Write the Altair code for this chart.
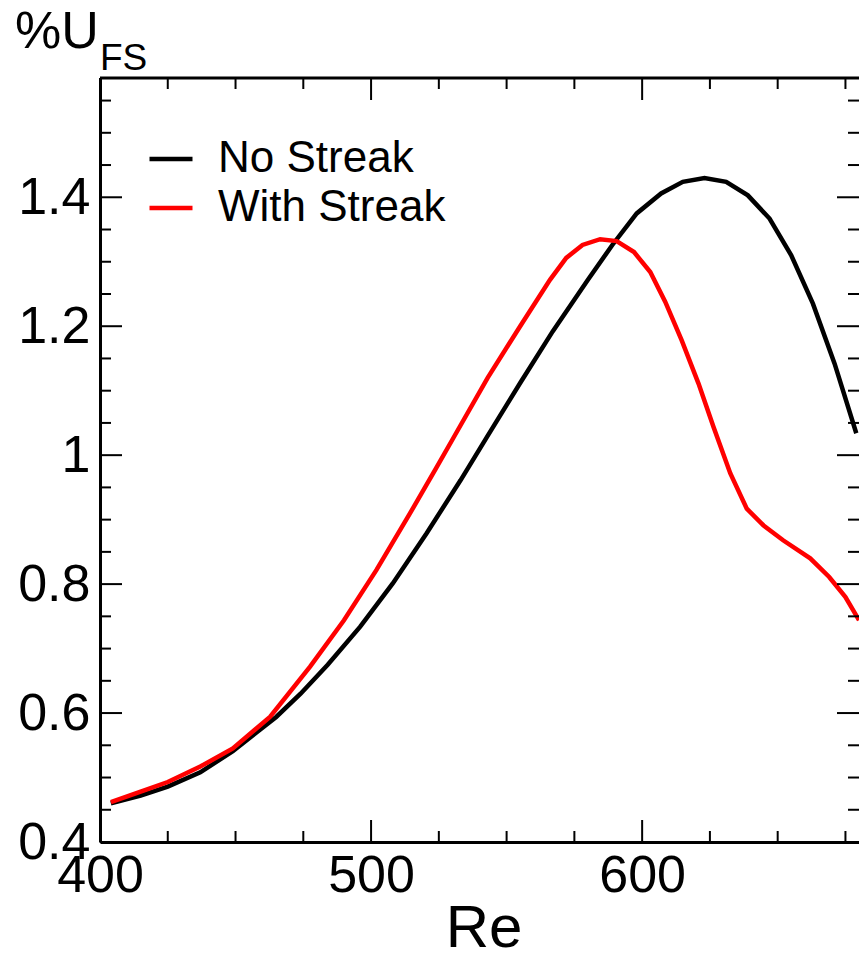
import altair as alt
import pandas as pd

# ---- data ----
re_no = [404, 415, 425, 437, 449, 465, 474, 484, 496, 508, 520.5, 533, 543, 555, 567,
         580, 589, 598, 607, 615, 623, 631, 639, 647, 655, 663, 671, 679]
u_no = [0.460, 0.472, 0.486, 0.508, 0.541, 0.594, 0.630, 0.675, 0.734, 0.801, 0.879,
        0.961, 1.030, 1.112, 1.192, 1.272, 1.326, 1.375, 1.406, 1.424, 1.430, 1.424,
        1.403, 1.367, 1.310, 1.235, 1.142, 1.034]

re_with = [404, 415, 425, 437, 449, 462.7, 477.5, 490, 502, 514.4, 524, 530.4, 543, 555,
           566, 572, 578, 584.5, 590.6, 597, 603, 608.5, 614.6, 620.8, 626.3, 632.5,
           638.6, 644.8, 652, 662, 669, 675, 680]
u_with = [0.462, 0.478, 0.493, 0.517, 0.545, 0.594, 0.672, 0.744, 0.822, 0.910, 0.980,
          1.027, 1.120, 1.200, 1.272, 1.306, 1.326, 1.335, 1.332, 1.315, 1.284, 1.238,
          1.178, 1.111, 1.044, 0.972, 0.917, 0.891, 0.868, 0.840, 0.811, 0.780, 0.744]

series = ["No Streak", "With Streak"]
colors = ["black", "red"]

x_major = [400, 500, 600]
x_minor = [425, 450, 475, 525, 550, 575, 625, 650, 675]
y_major = [0.4, 0.6, 0.8, 1.0, 1.2, 1.4]
y_minor = [0.45, 0.5, 0.55, 0.65, 0.7, 0.75, 0.85, 0.9, 0.95, 1.05, 1.1, 1.15,
           1.25, 1.3, 1.35, 1.45, 1.5, 1.55]

FONT = "Liberation Sans"
W, H = 759, 764
MAJ, MIN = 22, 11

df = pd.concat([
    pd.DataFrame({"re": re_no, "u": u_no, "series": series[0]}),
    pd.DataFrame({"re": re_with, "u": u_with, "series": series[1]}),
])

xs = alt.Scale(domain=[400, 680], nice=False, zero=False)
ys = alt.Scale(domain=[0.4, 1.585], nice=False, zero=False)

x_axis = alt.Axis(
    values=x_major, ticks=False, format="d", title=None, grid=False,
    labelFontSize=52, labelFont=FONT, labelColor="black", labelPadding=8,
    labelFlush=False, labelOverlap=False, domainWidth=3, domainColor="black")
y_axis = alt.Axis(
    values=y_major, ticks=False, format=".1~f", title=None, grid=False,
    labelFontSize=52, labelFont=FONT, labelColor="black", labelPadding=10,
    labelFlush=False, labelOverlap=False, domainWidth=3, domainColor="black")

lines = alt.Chart(df).mark_line(strokeWidth=4.5, clip=True).encode(
    x=alt.X("re:Q", scale=xs, axis=x_axis),
    y=alt.Y("u:Q", scale=ys, axis=y_axis),
    color=alt.Color("series:N", scale=alt.Scale(domain=series, range=colors),
                    legend=alt.Legend(title=None, orient="none", legendX=47, legendY=57,
                                      symbolType="stroke", symbolStrokeWidth=4.5,
                                      symbolSize=1850, labelFontSize=44, labelFont=FONT,
                                      labelColor="black", labelOffset=23, rowPadding=3,
                                      padding=0, labelLimit=0)),
    order=alt.Order("re:Q"),
)


def yticks(vals, x0, x1):
    return alt.Chart(pd.DataFrame({"u": vals})).mark_rule(color="black", strokeWidth=2).encode(
        y=alt.Y("u:Q", scale=ys, axis=y_axis), x=alt.value(x0), x2=alt.value(x1))


def xticks(vals, y0, y1):
    return alt.Chart(pd.DataFrame({"re": vals})).mark_rule(color="black", strokeWidth=2).encode(
        x=alt.X("re:Q", scale=xs, axis=x_axis), y=alt.value(y0), y2=alt.value(y1))


ticks = [
    yticks(y_major, 0, MAJ), yticks(y_minor, 0, MIN),
    yticks(y_major, W - MAJ, W), yticks(y_minor, W - MIN, W),
    xticks(x_major, H - MAJ, H), xticks(x_minor, H - MIN, H),
    xticks(x_major, 0, MAJ), xticks(x_minor, 0, MIN),
]

top_border = alt.Chart(pd.DataFrame({"a": [0]})).mark_rule(color="black", strokeWidth=3).encode(
    x=alt.value(0), x2=alt.value(W), y=alt.value(0))


def label(txt, x, y, size, align="left"):
    return alt.Chart(pd.DataFrame({"t": [txt]})).mark_text(
        font=FONT, fontSize=size, color="black", align=align, baseline="alphabetic"
    ).encode(text="t:N", x=alt.value(x), y=alt.value(y))


titles = [
    label("%U", -85, -30, 52),
    label("FS", 0, -8, 37),
    label("Re", 384, 869, 60, align="center"),
]

chart = alt.layer(lines, *ticks, top_border, *titles).properties(
    width=W, height=H,
    padding={"left": 100, "top": 78, "right": 0, "bottom": 114},
    autosize=alt.AutoSizeParams(type="none"),
).configure_view(stroke=None).configure(background="white")

chart.save("out.html", embed_options={"renderer": "svg", "actions": False})
